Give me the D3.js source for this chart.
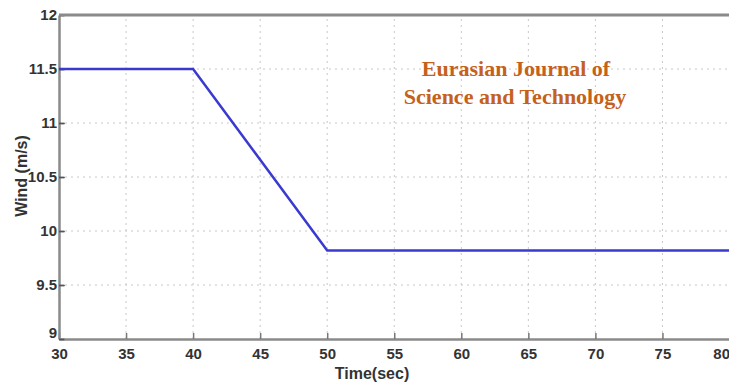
<!DOCTYPE html>
<html>
<head>
<meta charset="utf-8">
<script src="https://cdn.jsdelivr.net/npm/d3@7"></script>
<style>
  body { margin: 0; background: #fff; }
  svg { display: block; }
</style>
</head>
<body>
<div id="container"></div>
<script>
// Wind speed profile (breakpoints)
var timeSec = [30, 40, 50, 80];
var windSpeed = [11.5, 11.5, 9.82, 9.82];
var xTicks = [30, 35, 40, 45, 50, 55, 60, 65, 70, 75, 80];
var yTicks = [9, 9.5, 10, 10.5, 11, 11.5, 12];

var width = 729,
    height = 383;
var margin = {top: 15, right: 0, bottom: 44, left: 59};

var svg = d3.select("#container")
            .append("svg")
              .attr("width", width)
              .attr("height", height);

var x = d3.scaleLinear()
          .domain([30, 80])
          .range([margin.left, 729.5]);

var y = d3.scaleLinear()
          .domain([9, 12])
          .range([height - margin.bottom, margin.top]);

// Dotted grid
svg.append("g")
    .selectAll("line")
    .data(xTicks.slice(1, -1))
    .enter()
    .append("line")
      .attr("x1", function(d) { return x(d); })
      .attr("x2", function(d) { return x(d); })
      .attr("y1", y(9))
      .attr("y2", y(12))
      .attr("stroke", "#c8c8c8")
      .attr("stroke-width", 1)
      .attr("stroke-dasharray", "2,4");

svg.append("g")
    .selectAll("line")
    .data(yTicks.slice(1, -1))
    .enter()
    .append("line")
      .attr("x1", x(30))
      .attr("x2", x(80))
      .attr("y1", function(d) { return y(d); })
      .attr("y2", function(d) { return y(d); })
      .attr("stroke", "#c8c8c8")
      .attr("stroke-width", 1)
      .attr("stroke-dasharray", "2,4");

// Axes (ticks inside)
var xAxis = svg.append("g")
    .attr("transform", "translate(0," + y(9) + ")")
    .call(d3.axisBottom(x).tickValues(xTicks).tickSizeInner(-6).tickSizeOuter(0).tickPadding(9));

var yAxis = svg.append("g")
    .attr("transform", "translate(" + x(30) + ",0)")
    .call(d3.axisLeft(y).tickValues(yTicks).tickSizeInner(-6).tickSizeOuter(0).tickPadding(3)
            .tickFormat(function(d) { return d3.format("")(d); }));

[xAxis, yAxis].forEach(function(g) {
  g.select(".domain").attr("stroke", "#8a8a8a").attr("stroke-width", 2.5);
  g.selectAll(".tick line").attr("stroke", "#777").attr("stroke-width", 1.5);
  g.selectAll(".tick text")
    .attr("fill", "#333")
    .style("font-family", "'Liberation Sans Narrow', 'Liberation Sans', Arial, sans-serif")
    .style("font-size", "15px")
    .style("font-weight", "bold");
});

// Last x label sits at the window edge: anchor it inside
xAxis.selectAll(".tick")
    .filter(function(d) { return d === 80; })
    .select("text").attr("text-anchor", "end").attr("x", 0);

// Small outward dash next to the y labels, like the original
yAxis.selectAll(".tick")
    .append("line")
      .attr("x1", 0)
      .attr("x2", 5)
      .attr("stroke", "#555")
      .attr("stroke-width", 1.5);

yAxis.selectAll(".tick text").attr("x", -2);
yAxis.selectAll(".tick")
    .filter(function(d) { return d === 9; })
    .select("text").attr("dy", "-0.1em");

// Top frame line
svg.append("line")
    .attr("x1", x(30))
    .attr("x2", x(80))
    .attr("y1", y(12))
    .attr("y2", y(12))
    .attr("stroke", "#8a8a8a")
    .attr("stroke-width", 3);

// Wind line
var line = d3.line()
             .x(function(d, i) { return x(timeSec[i]); })
             .y(function(d) { return y(d); });

svg.append("path")
    .datum(windSpeed)
    .attr("d", line)
    .attr("fill", "none")
    .attr("stroke", "#3a3ad0")
    .attr("stroke-width", 2.5);

// Axis titles
svg.append("text")
    .attr("x", 372)
    .attr("y", 379)
    .attr("text-anchor", "middle")
    .attr("fill", "#333")
    .style("font-family", "'Liberation Sans Narrow', 'Liberation Sans', Arial, sans-serif")
    .style("font-size", "16px")
    .style("font-weight", "bold")
    .text("Time(sec)");

svg.append("text")
    .attr("transform", "translate(27,176) rotate(-90)")
    .attr("text-anchor", "middle")
    .attr("fill", "#333")
    .style("font-family", "'Liberation Sans Narrow', 'Liberation Sans', Arial, sans-serif")
    .style("font-size", "16px")
    .style("font-weight", "bold")
    .text("Wind (m/s)");

// Watermark
var mark = svg.append("g")
    .style("font-family", "'Liberation Serif', 'DejaVu Serif', serif")
    .style("font-size", "22px")
    .style("font-weight", "bold")
    .attr("fill", "#c5611a")
    .attr("text-anchor", "middle");

mark.append("text").attr("x", 516).attr("y", 76).text("Eurasian Journal of");
mark.append("text").attr("x", 515).attr("y", 104).text("Science and Technology");
</script>
</body>
</html>
